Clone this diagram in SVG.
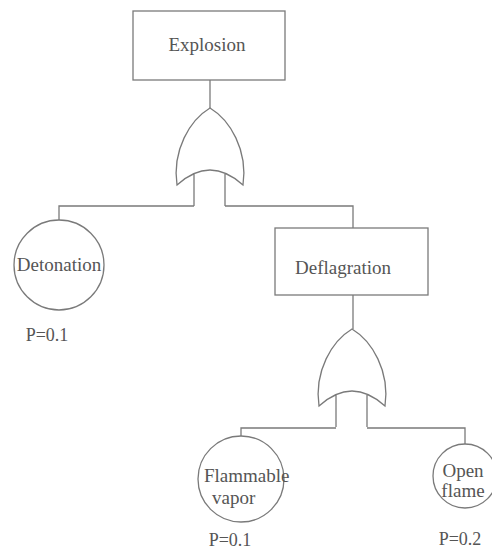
<svg xmlns="http://www.w3.org/2000/svg" width="492" height="551" viewBox="0 0 492 551">
<defs>
<style>
.ln{fill:none;stroke:#7a7a7a;stroke-width:1.3}
.bx{fill:#ffffff;stroke:#7a7a7a;stroke-width:1.3}
.t{font-family:"Liberation Serif","Times New Roman",serif;font-size:19px;fill:#555555}
.p{font-family:"Liberation Serif","Times New Roman",serif;font-size:18px;fill:#555555}
</style>
<path id="orgate" d="M0 0 C-20 12,-38 42,-33 77 Q0 47,33 77 C38 42,20 12,0 0 Z M-16 65.5 V98 M15 65.5 V98"/>
</defs>
<rect width="492" height="551" fill="#ffffff"/>
<g id="connectors" class="ln">
<path d="M210 80 V108"/>
<path d="M194 206 H59 V220"/>
<path d="M225 206 H353 V228"/>
<path d="M353 295 V329"/>
<path d="M336 428 H241 V436"/>
<path d="M367 428 H465 V444"/>
</g>
<g id="explosion">
<rect class="bx" x="133" y="11" width="152" height="69"/>
<text class="t" x="207" y="51" text-anchor="middle">Explosion</text>
</g>
<g id="or-gate-1">
<use href="#orgate" class="ln" transform="translate(210,108)"/>
</g>
<g id="detonation">
<circle class="ln" cx="59" cy="265" r="45"/>
<text class="t" x="59" y="271" text-anchor="middle">Detonation</text>
<text class="p" x="47" y="341" text-anchor="middle">P=0.1</text>
</g>
<g id="deflagration">
<rect class="bx" x="275" y="228" width="153" height="67"/>
<text class="t" x="343" y="274" text-anchor="middle">Deflagration</text>
</g>
<g id="or-gate-2">
<use href="#orgate" class="ln" transform="translate(352,329)"/>
</g>
<g id="flammable-vapor">
<circle class="ln" cx="241" cy="479" r="43"/>
<text class="t" x="204" y="482">Flammable</text>
<text class="t" x="212" y="504">vapor</text>
<text class="p" x="230" y="546" text-anchor="middle">P=0.1</text>
</g>
<g id="open-flame">
<circle class="ln" cx="465" cy="476" r="32"/>
<text class="t" x="463" y="477" text-anchor="middle">Open</text>
<text class="t" x="463" y="497" text-anchor="middle">flame</text>
<text class="p" x="460" y="545" text-anchor="middle">P=0.2</text>
</g>
</svg>
